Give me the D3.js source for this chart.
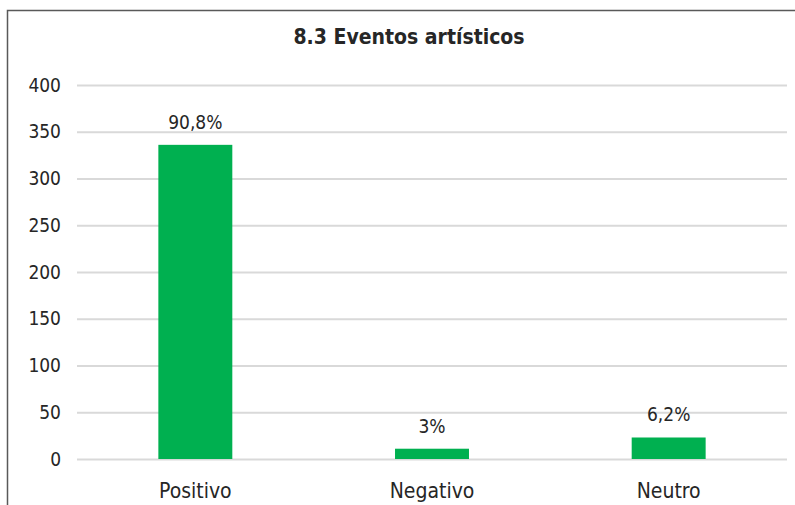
<!DOCTYPE html>
<html><head><meta charset="utf-8">
<script src="https://cdn.jsdelivr.net/npm/d3@7"></script>
<style>
body{margin:0;background:#fff;}
svg text{font-family:"Liberation Sans Narrow","DejaVu Sans Condensed","Liberation Sans",sans-serif;fill:#262626;}
</style></head><body>
<svg id="c" width="795" height="505"></svg>
<script>
const title = "8.3 Eventos artísticos";
const categories = ["Positivo","Negativo","Neutro"];
const values = [336, 11, 23];
const labels = ["90,8%","3%","6,2%"];
const yTicks = [0,50,100,150,200,250,300,350,400];

const svg = d3.select("#c");
const W=795,H=505;
const m={left:77,right:8,top:85,bottom:46};
const x=d3.scaleBand().domain(categories).range([m.left,W-m.right]).paddingInner(0.6875).paddingOuter(0.34375);
const y=d3.scaleLinear().domain([0,400]).range([H-m.bottom,m.top]);

svg.append("rect").attr("x",0).attr("y",0).attr("width",W).attr("height",H).attr("fill","#fff");
// border
svg.append("path").attr("d",`M7.5,${H} V10.5 H${W}`).attr("fill","none").attr("stroke","#595959").attr("stroke-width",1.5);

svg.append("text").attr("x",409).attr("y",44).attr("text-anchor","middle")
  .style("font-size","21px").style("font-weight","bold").text(title);

const ya=svg.append("g").attr("transform",`translate(${m.left},0)`)
  .call(d3.axisLeft(y).tickValues(yTicks).tickSize(-(W-m.left-m.right)).tickPadding(16));
ya.select(".domain").remove();
ya.selectAll(".tick line").attr("stroke","#d9d9d9").attr("stroke-width",2);
ya.selectAll(".tick text").style("font-size","19px").attr("fill","#262626");

svg.selectAll("rect.bar").data(values).join("rect").attr("class","bar")
  .attr("x",(d,i)=>x(categories[i])).attr("width",x.bandwidth())
  .attr("y",d=>y(d)).attr("height",d=>y(0)-y(d)).attr("fill","#00b050");

svg.selectAll("text.lbl").data(values).join("text").attr("class","lbl")
  .attr("x",(d,i)=>x(categories[i])+x.bandwidth()/2).attr("y",d=>y(d)-16)
  .attr("text-anchor","middle").style("font-size","19px").text((d,i)=>labels[i]);

const xa=svg.append("g").attr("transform",`translate(0,${H-m.bottom})`)
  .call(d3.axisBottom(x).tickSize(0).tickPadding(24));
xa.select(".domain").remove();
xa.selectAll(".tick text").style("font-size","21px").attr("fill","#262626");
</script></body></html>
